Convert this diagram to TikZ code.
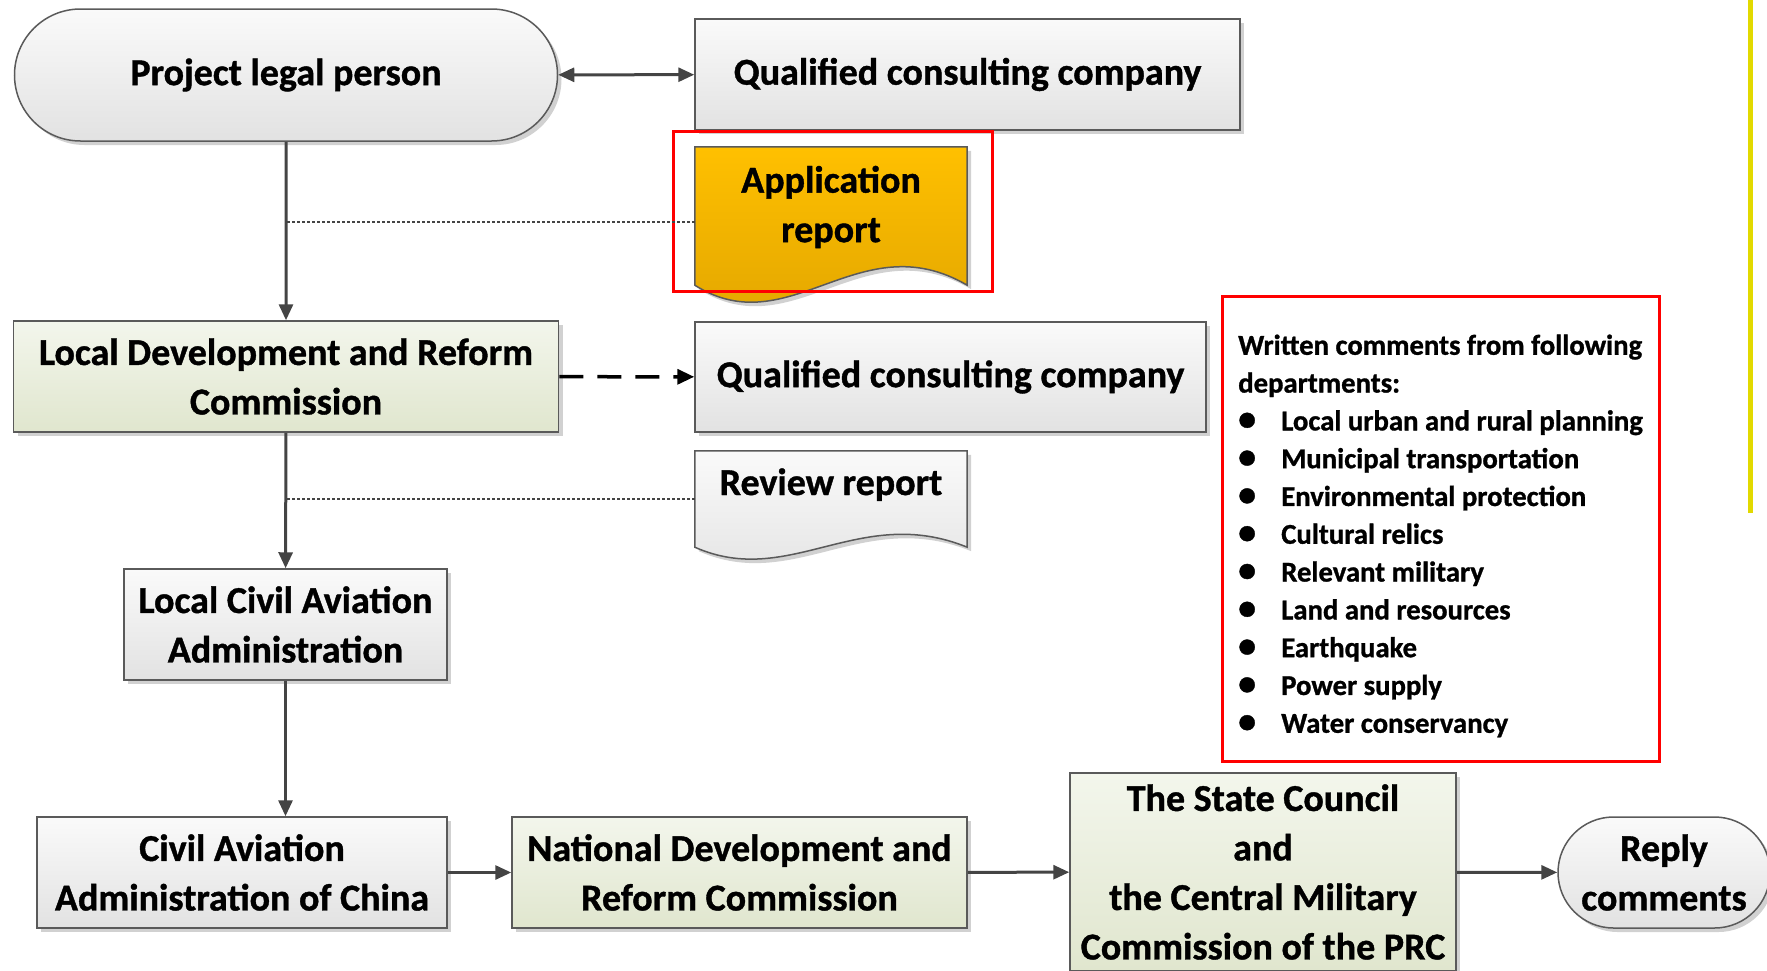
\documentclass[tikz,border=0pt]{standalone}
\usepackage{fontspec}
\setmainfont{Carlito}[BoldFeatures={FakeBold=1}]
\usepackage{tikz}
\usetikzlibrary{shapes.misc, shadows, arrows.meta, calc, backgrounds}

\definecolor{boxline}{HTML}{5A5A5A}
\definecolor{linkgray}{HTML}{444444}
\definecolor{graytop}{HTML}{FAFAFA}
\definecolor{graybot}{HTML}{E2E2E2}
\definecolor{greentop}{HTML}{F3F6EC}
\definecolor{greenbot}{HTML}{E0E6CE}
\definecolor{ambertop}{HTML}{FFC000}
\definecolor{amberbot}{HTML}{DFA300}
\definecolor{markred}{HTML}{FF0000}
\definecolor{markyellow}{HTML}{E2D900}

\newcommand{\boxfont}{\fontsize{38}{49.5}\selectfont\bfseries}
\newcommand{\listfont}{\fontsize{28.7}{37.8}\selectfont\bfseries}
\newcommand{\bitem}[1]{\makebox[43pt][l]{\scalebox{1.25}{\textbullet}}#1}

\tikzstyle{flowbox} = [draw=boxline, line width=1.5pt, align=center, font=\boxfont, inner sep=4pt, drop shadow={shadow xshift=4pt, shadow yshift=-4pt, fill=black, opacity=0.18}]
\tikzstyle{graybox} = [flowbox, top color=graytop, bottom color=graybot]
\tikzstyle{greenbox} = [flowbox, top color=greentop, bottom color=greenbot]
\tikzstyle{pill} = [graybox, rounded rectangle]
\tikzstyle{docpart} = [align=center, font=\boxfont, inner sep=0pt, minimum width=272pt]
\tikzstyle{docline} = [draw=boxline, line width=1.5pt, drop shadow={shadow xshift=4pt, shadow yshift=-4pt, fill=black, opacity=0.18}]
\tikzstyle{flowlink} = [-{Triangle[length=16pt,width=14pt]}, draw=linkgray, line width=3pt]
\tikzstyle{twolink} = [{Triangle[length=16pt,width=14pt]}-{Triangle[length=16pt,width=14pt]}, draw=linkgray, line width=3pt]
\tikzstyle{dashlink} = [-{Triangle[length=17pt,width=15pt]}, draw=black, line width=3.5pt, dash pattern=on 24pt off 14pt]
\tikzstyle{dotlink} = [draw=linkgray, line width=2pt, dash pattern=on 2.5pt off 2.5pt]
\tikzstyle{redmark} = [draw=markred, line width=3pt]

\begin{document}
\begin{tikzpicture}[x=1pt, y=-1pt]

    \useasboundingbox (0,0) rectangle (1767,970);

    % --- top row
    \node[pill, minimum width=551pt, minimum height=132pt] (plp) at (286,75) {Project legal person};
    \node[graybox, minimum width=545pt, minimum height=111pt] (qcc1) at (967.5,74.5) {Qualified consulting company};
    \draw[twolink] (plp) -- (qcc1);

    % --- application report
    \node[docpart, minimum height=120pt] (apprep) at (831,207) {Application\\report};
    \begin{scope}[on background layer]
        \draw[docline, top color=ambertop, bottom color=amberbot] ($(apprep.south west)+(0,18)$) -- (apprep.north west) -- (apprep.north east) -- ($(apprep.south east)+(0,18)$)
            .. controls ($(apprep.south east)+(-108,-45)$) and ($(apprep.south west)+(95,78)$) .. ($(apprep.south west)+(0,18)$) -- cycle;
    \end{scope}
    \coordinate (appin) at ($(apprep.west)+(0,15)$);
    \draw[redmark] (673,131) rectangle (992,291);

    % --- local commission
    \node[greenbox, minimum width=545pt, minimum height=111pt] (ldrc) at (286,376.5) {Local Development and Reform\\Commission};
    \node[graybox, minimum width=511pt, minimum height=110pt] (qcc2) at (950.5,377) {Qualified consulting company};
    \draw[flowlink] (plp) -- (ldrc);
    \draw[dotlink] (appin) -- (appin -| plp.south);
    \draw[dashlink] (ldrc) -- (qcc2);

    % --- review report
    \node[docpart, minimum height=96pt, text height=30pt, text depth=38pt] (revrep) at (831,499) {Review report};
    \begin{scope}[on background layer]
        \draw[docline, top color=graytop, bottom color=graybot] (revrep.south west) -- (revrep.north west) -- (revrep.north east) -- (revrep.south east)
            .. controls ($(revrep.south east)+(-108,-44)$) and ($(revrep.south west)+(95,42)$) .. (revrep.south west) -- cycle;
    \end{scope}

    % --- local civil aviation
    \node[graybox, minimum width=323pt, minimum height=111pt] (lcaa) at (285.5,624.5) {Local Civil Aviation\\Administration};
    \draw[flowlink] (ldrc) -- (lcaa);
    \draw[dotlink] (revrep.west) -- (revrep.west -| ldrc.south);

    % --- bottom row
    \node[graybox, minimum width=410pt, minimum height=111pt] (caac) at (242,872.5) {Civil Aviation\\Administration of China};
    \node[greenbox, minimum width=455pt, minimum height=111pt] (ndrc) at (739.5,872.5) {National Development and\\Reform Commission};
    \node[greenbox, minimum width=386pt, minimum height=198pt] (state) at (1263,872) {The State Council\\and\\the Central Military\\Commission of the PRC};
    \node[pill, minimum width=220pt, minimum height=111pt] (reply) at (1664,872.5) {Reply\\comments};
    \draw[flowlink] (lcaa.south) -- (lcaa.south |- caac.north);
    \draw[flowlink] (caac) -- (ndrc);
    \draw[flowlink] (ndrc) -- (state);
    \draw[flowlink] (state) -- (reply);

    % --- departments
    \node[redmark, align=left, font=\listfont, minimum width=437pt, minimum height=465pt] (depts) at (1440.5,528.5) {\rule{0pt}{35pt}Written comments from following\\departments:\\
        \bitem{Local urban and rural planning}\\
        \bitem{Municipal transportation}\\
        \bitem{Environmental protection}\\
        \bitem{Cultural relics}\\
        \bitem{Relevant military}\\
        \bitem{Land and resources}\\
        \bitem{Earthquake}\\
        \bitem{Power supply}\\
        \bitem{Water conservancy}};

    % --- side mark
    \draw[markyellow, line width=5pt] (1750,0) -- (1750,513);

\end{tikzpicture}
\end{document}
